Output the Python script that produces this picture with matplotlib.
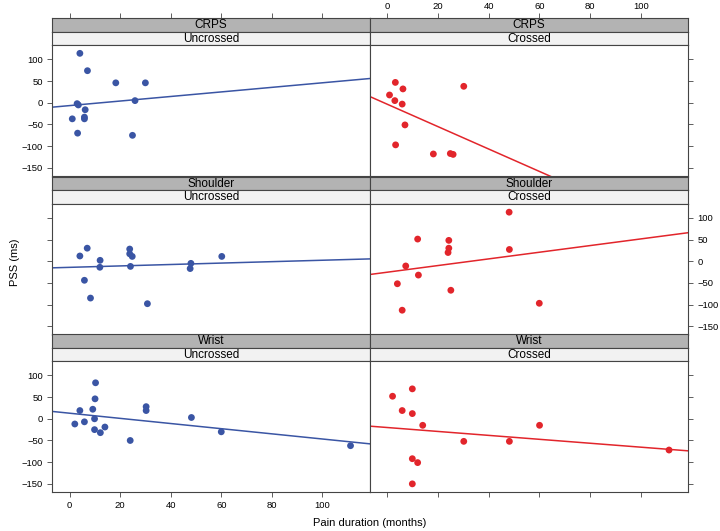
import numpy as np
import matplotlib
matplotlib.use('Agg')
import matplotlib.pyplot as plt

plt.rcParams['font.family'] = ['Liberation Sans', 'DejaVu Sans']

groups = ['CRPS', 'Shoulder', 'Wrist']
conditions = ['Uncrossed', 'Crossed']

# PSS (ms) vs pain duration (months)
crps_unc_x = [4.1, 7.1, 18.3, 30.0, 3.0, 3.5, 6.2, 5.9, 5.9, 1.1, 3.2, 24.9, 25.9]
crps_unc_y = [114, 74, 46, 46, -2, -5, -16, -33, -37, -37, -70, -75, 5]
crps_cro_x = [3.2, 6.2, 30.2, 0.9, 3.0, 5.9, 7.0, 3.3, 18.2, 24.9, 26.0]
crps_cro_y = [47, 32, 38, 18, 5, -3, -51, -97, -118, -117, -119]

shoulder_unc_x = [4.1, 7.0, 12.1, 12.0, 23.8, 23.8, 24.8, 24.1, 48.0, 47.7, 60.2, 5.9, 8.3, 30.8]
shoulder_unc_y = [12, 30, 2, -14, 28, 17, 11, -12, -5, -17, 11, -44, -85, -98]
shoulder_cro_x = [48.1, 12.0, 24.3, 24.3, 24.0, 48.2, 7.3, 12.3, 4.0, 25.1, 5.9, 60.0]
shoulder_cro_y = [113, 51, 48, 30, 20, 27, -11, -32, -52, -67, -113, -97]

wrist_unc_x = [10.3, 10.1, 9.2, 4.1, 9.9, 2.1, 5.9, 9.9, 12.2, 14.0, 30.3, 30.3, 48.2, 24.0, 60.0, 111.1]
wrist_unc_y = [83, 46, 22, 19, 0, -12, -7, -25, -32, -19, 28, 19, 3, -50, -30, -62]
wrist_cro_x = [9.9, 2.1, 5.9, 9.9, 14.0, 30.2, 48.2, 60.1, 111.2, 9.9, 12.0, 9.9]
wrist_cro_y = [69, 52, 19, 12, -15, -52, -52, -15, -72, -92, -101, -150]

# fitted lines as (intercept, slope)
fit_unc = [(-6.5, 0.526), (-14.2, 0.164), (12.9, -0.595)]
fit_cro = [(-3.3, -2.58), (-25.4, 0.767), (-20.1, -0.453)]

data = [
    [(crps_unc_x, crps_unc_y), (crps_cro_x, crps_cro_y)],
    [(shoulder_unc_x, shoulder_unc_y), (shoulder_cro_x, shoulder_cro_y)],
    [(wrist_unc_x, wrist_unc_y), (wrist_cro_x, wrist_cro_y)],
]
fits = [[fit_unc[i], fit_cro[i]] for i in range(3)]
colors = ['#3a55a4', '#e2252b']

W, H = 720, 531
fig = plt.figure(figsize=(7.2, 5.31), dpi=100)


def rect(x0, x1, y0, y1):
    return [x0 / W, 1 - y1 / H, (x1 - x0) / W, (y1 - y0) / H]


col_x = [(52.3, 370.0), (370.0, 688.3)]
row_top = [18.3, 176.7, 334.3]
strip_h = 13.4
panel_h = 131.0
edge = '#444444'
xlim = (-6.8, 118.8)
ylim = (-169, 133)
xticks = np.arange(0, 101, 20)
yticks = np.arange(-150, 101, 50)
tick_kw = dict(direction='out', length=3.6, width=0.6, color=edge, labelsize=6.8)

for r in range(3):
    for c in range(2):
        x0, x1 = col_x[c]
        t = row_top[r]
        # strips
        for k, (label, fc) in enumerate([(groups[r], '#b3b3b3'), (conditions[c], '#f2f2f2')]):
            sax = fig.add_axes(rect(x0, x1, t + k * strip_h, t + (k + 1) * strip_h))
            sax.set_facecolor(fc)
            sax.set_xlim(*xlim)
            sax.set_yticks([])
            if r == 0 and k == 0:
                # top axis sits above the strips, lattice style
                sax.set_xticks(xticks)
                sax.tick_params(axis='x', top=True, bottom=False, pad=1.5,
                                labeltop=(c == 1), labelbottom=False, **tick_kw)
            else:
                sax.set_xticks([])
            for s in sax.spines.values():
                s.set_color(edge)
                s.set_linewidth(0.8)
            sax.text(0.5, 0.47, label, ha='center', va='center', fontsize=8.5,
                     transform=sax.transAxes)
        ax = fig.add_axes(rect(x0, x1, t + 2 * strip_h, t + 2 * strip_h + panel_h))
        xs, ys = data[r][c]
        ax.scatter(xs, ys, s=24, color=colors[c], edgecolors='none', zorder=3)
        a, b = fits[r][c]
        lx = np.array(xlim)
        ax.plot(lx, a + b * lx, color=colors[c], lw=1.1, zorder=2)
        ax.set_xlim(*xlim)
        ax.set_ylim(*ylim)
        ax.set_xticks(xticks)
        ax.set_yticks(yticks)
        for s in ax.spines.values():
            s.set_color(edge)
            s.set_linewidth(0.8)
        ax.tick_params(left=(c == 0), right=(c == 1), pad=3,
                       labelleft=(c == 0 and r != 1), labelright=(c == 1 and r == 1),
                       top=False, bottom=(r == 2),
                       labeltop=False, labelbottom=(r == 2 and c == 0), **tick_kw)

fig.text(15 / W, 1 - 262 / H, 'PSS (ms)', rotation=90, ha='center', va='center', fontsize=8)
fig.text(370 / W, 1 - 523 / H, 'Pain duration (months)', ha='center', va='center', fontsize=8)

fig.savefig('out.png', dpi=100)
